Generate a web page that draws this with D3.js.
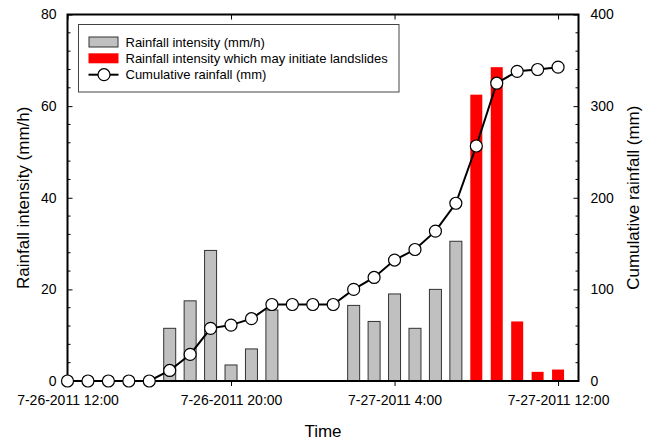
<!DOCTYPE html>
<html>
<head>
<meta charset="utf-8">
<script src="https://cdn.jsdelivr.net/npm/d3@7"></script>
<style>
  html, body { margin: 0; padding: 0; background: #fff; }
  svg { display: block; font-family: "Liberation Sans", Arial, sans-serif; }
</style>
</head>
<body>
<svg id="chart" width="653" height="441"></svg>
<script>
// ---- data ----
const times = [
  "2011-07-26T12:00", "2011-07-26T13:00", "2011-07-26T14:00", "2011-07-26T15:00", "2011-07-26T16:00",
  "2011-07-26T17:00", "2011-07-26T18:00", "2011-07-26T19:00", "2011-07-26T20:00", "2011-07-26T21:00",
  "2011-07-26T22:00", "2011-07-26T23:00", "2011-07-27T00:00", "2011-07-27T01:00", "2011-07-27T02:00",
  "2011-07-27T03:00", "2011-07-27T04:00", "2011-07-27T05:00", "2011-07-27T06:00", "2011-07-27T07:00",
  "2011-07-27T08:00", "2011-07-27T09:00", "2011-07-27T10:00", "2011-07-27T11:00", "2011-07-27T12:00"
];
const intensity = [0, 0, 0, 0, 0, 11.5, 17.5, 28.5, 3.5, 7, 15.5, 0, 0, 0, 16.5, 13, 19, 11.5, 20, 30.5, 62.5, 68.5, 13, 2, 2.5];
const mayInitiate = [false, false, false, false, false, false, false, false, false, false, false, false, false, false, false, false, false, false, false, false, true, true, true, true, true];
const cumulative = [0, 0, 0, 0, 0, 11.5, 29, 57.5, 61, 68, 83.5, 83.5, 83.5, 83.5, 100, 113, 132, 143.5, 163.5, 194, 256.5, 325, 338, 340, 342.5];
const xTickLabels = ["7-26-2011 12:00", "7-26-2011 20:00", "7-27-2011 4:00", "7-27-2011 12:00"];
const xTickTimes = ["2011-07-26T12:00", "2011-07-26T20:00", "2011-07-27T04:00", "2011-07-27T12:00"];
const leftTicks = [0, 20, 40, 60, 80];
const rightTicks = [0, 100, 200, 300, 400];
const legendLabels = ["Rainfall intensity (mm/h)", "Rainfall intensity which may initiate landslides", "Cumulative rainfall (mm)"];

// ---- layout ----
const parse = d3.timeParse("%Y-%m-%dT%H:%M");
const L = 67.5, R = 578.5, T = 14.5, B = 381;
const svg = d3.select("#chart");

const x = d3.scaleTime()
  .domain([parse("2011-07-26T12:00"), parse("2011-07-27T13:00")])
  .range([L, R]);
const yL = d3.scaleLinear().domain([0, 80]).range([B, T]);
const yR = d3.scaleLinear().domain([0, 400]).range([B, T]);

const data = times.map((t, i) => ({ t: parse(t), v: intensity[i], red: mayInitiate[i], c: cumulative[i] }));
const barW = 12;

// bars
svg.append("g").selectAll("rect")
  .data(data.filter(d => d.v > 0))
  .join("rect")
  .attr("x", d => x(d.t) - barW / 2)
  .attr("y", d => yL(d.v))
  .attr("width", barW)
  .attr("height", d => yL(0) - yL(d.v))
  .attr("fill", d => d.red ? "#ff0000" : "#c0c0c0")
  .attr("stroke", d => d.red ? "none" : "#333")
  .attr("stroke-width", 1);

// axes
const fontSize = 14;
// left axis
const leftAxis = d3.axisLeft(yL).tickValues(leftTicks).tickSizeInner(-5).tickSizeOuter(0).tickPadding(11);
const gl = svg.append("g").attr("transform", `translate(${L},0)`).call(leftAxis);
gl.selectAll("text").attr("font-size", fontSize).attr("font-family", "Liberation Sans, Arial, sans-serif").attr("fill", "#000");
gl.selectAll("line").attr("stroke", "#000");
gl.select(".domain").remove();
const minorL = d3.range(0, 81, 4).filter(v => v % 20 !== 0);
svg.append("g").selectAll("line").data(minorL).join("line")
  .attr("x1", L).attr("x2", L + 3).attr("y1", d => yL(d)).attr("y2", d => yL(d)).attr("stroke", "#000");

// right axis
const rightAxis = d3.axisRight(yR).tickValues(rightTicks).tickSizeInner(-5).tickSizeOuter(0).tickPadding(12);
const gr = svg.append("g").attr("transform", `translate(${R},0)`).call(rightAxis);
gr.selectAll("text").attr("font-size", fontSize).attr("font-family", "Liberation Sans, Arial, sans-serif").attr("fill", "#000");
gr.selectAll("line").attr("stroke", "#000");
gr.select(".domain").remove();
const minorR = d3.range(0, 401, 20).filter(v => v % 100 !== 0);
svg.append("g").selectAll("line").data(minorR).join("line")
  .attr("x1", R).attr("x2", R - 3).attr("y1", d => yR(d)).attr("y2", d => yR(d)).attr("stroke", "#000");

// bottom axis
const bottomAxis = d3.axisBottom(x).tickValues(xTickTimes.map(parse)).tickSizeInner(5).tickSizeOuter(0).tickPadding(9)
  .tickFormat((d, i) => xTickLabels[i]);
const gb = svg.append("g").attr("transform", `translate(0,${B})`).call(bottomAxis);
gb.selectAll("text").attr("font-size", fontSize).attr("font-family", "Liberation Sans, Arial, sans-serif").attr("fill", "#000");
gb.selectAll("line").attr("stroke", "#000");
gb.select(".domain").remove();

// top axis (ticks inward, no labels)
const topAxis = d3.axisTop(x).tickValues(xTickTimes.map(parse)).tickSizeInner(-5).tickSizeOuter(0).tickFormat("");
const gt = svg.append("g").attr("transform", `translate(0,${T})`).call(topAxis);
gt.selectAll("line").attr("stroke", "#000");
gt.select(".domain").remove();

// frame
svg.append("rect").attr("x", L).attr("y", T).attr("width", R - L).attr("height", B - T)
  .attr("fill", "none").attr("stroke", "#000").attr("stroke-width", 2);

// cumulative line
const line = d3.line().x(d => x(d.t)).y(d => yR(d.c));
svg.append("path").datum(data).attr("d", line).attr("fill", "none").attr("stroke", "#000").attr("stroke-width", 2);
svg.append("g").selectAll("circle").data(data).join("circle")
  .attr("cx", d => x(d.t)).attr("cy", d => yR(d.c)).attr("r", 6)
  .attr("fill", "#fff").attr("stroke", "#000").attr("stroke-width", 1.2);

// axis titles
svg.append("text").attr("transform", `translate(29,${(T + B) / 2}) rotate(-90)`)
  .attr("text-anchor", "middle").attr("font-size", 17).text("Rainfall intensity (mm/h)");
svg.append("text").attr("transform", `translate(639,${(T + B) / 2}) rotate(-90)`)
  .attr("text-anchor", "middle").attr("font-size", 17).text("Cumulative rainfall (mm)");
svg.append("text").attr("x", 323).attr("y", 437).attr("text-anchor", "middle").attr("font-size", 17).text("Time");

// legend
const lg = svg.append("g");
lg.append("rect").attr("x", 78.5).attr("y", 24.5).attr("width", 320.5).attr("height", 67.5)
  .attr("fill", "#fff").attr("stroke", "#444").attr("stroke-width", 1);
const rowY = [42, 58.3, 74.7];
lg.append("rect").attr("x", 89).attr("y", rowY[0] - 5).attr("width", 29).attr("height", 10)
  .attr("fill", "#c0c0c0").attr("stroke", "#333");
lg.append("rect").attr("x", 88.5).attr("y", rowY[1] - 5).attr("width", 30).attr("height", 10)
  .attr("fill", "#ff0000");
lg.append("line").attr("x1", 88.5).attr("x2", 118.5).attr("y1", rowY[2]).attr("y2", rowY[2])
  .attr("stroke", "#000").attr("stroke-width", 2);
lg.append("circle").attr("cx", 104).attr("cy", rowY[2]).attr("r", 6).attr("fill", "#fff").attr("stroke", "#000").attr("stroke-width", 1.2);
lg.selectAll("text.lab").data(legendLabels).join("text").attr("class", "lab")
  .attr("x", 125.5).attr("y", (d, i) => rowY[i]).attr("dy", "0.35em")
  .attr("font-size", 13).text(d => d);
</script>
</body>
</html>
